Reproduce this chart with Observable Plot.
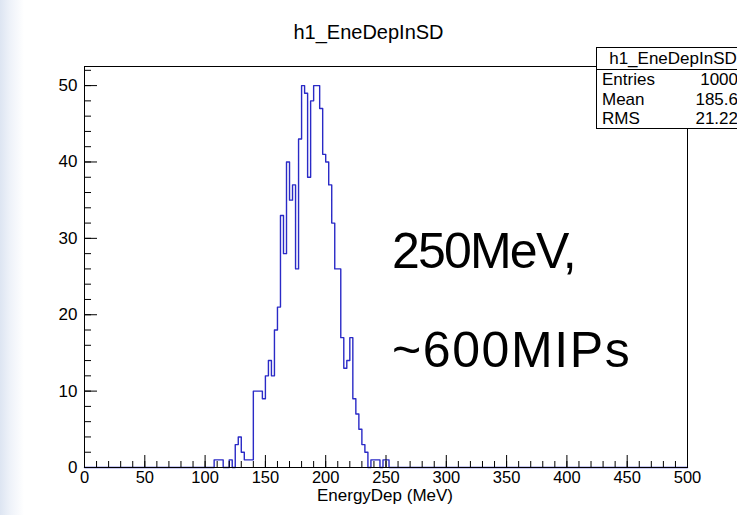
<!DOCTYPE html>
<html>
<head>
<meta charset="utf-8">
<script src="https://cdn.jsdelivr.net/npm/d3@7"></script>
<script src="https://cdn.jsdelivr.net/npm/@observablehq/plot@0.6"></script>
<style>
  html, body { margin: 0; padding: 0; }
  body { width: 737px; height: 515px; overflow: hidden; position: relative;
         background: linear-gradient(90deg, #dde5f2 0px, #eef2f9 10px, #ffffff 24px);
         font-family: "Liberation Sans", Arial, Helvetica, sans-serif; }
  #chart { position: absolute; left: 0; top: 0; }
  .abs { position: absolute; white-space: nowrap; color: #000; }
  #title { left: 0; width: 737px; top: 21px; text-align: center; font-size: 20px; }
  #xlab { left: 385px; transform: translateX(-50%); top: 487px; font-size: 17px; line-height: 17px; }
  #stats { left: 596px; top: 47px; width: 148px; height: 80px; background: #fff;
           border: 1px solid #000; font-size: 17px; }
  #stats .hd { height: 21px; line-height: 21px; text-align: center; border-bottom: 1px solid #000; padding-left: 4px; }
  #stats .row { position: relative; height: 19.5px; line-height: 19.5px; }
  #stats .row .k { position: absolute; left: 5px; }
  #stats .row .v { position: absolute; right: 7px; }
  .big { left: 392px; font-size: 50px; }
</style>
</head>
<body>
<div id="chart"></div>
<div id="title" class="abs"></div>
<div id="xlab" class="abs"></div>
<div id="stats" class="abs"></div>
<div id="ann1" class="abs big" style="top:222px; letter-spacing:-1.8px"></div>
<div id="ann2" class="abs big" style="top:321px; letter-spacing:1.6px"></div>
<script>
// ---- data ----
const histTitle = "h1_EneDepInSD";
const xAxisTitle = "EnergyDep (MeV)";
const binWidth = 2.5;          // MeV (200 bins over 0..500)
const xMin = 0, xMax = 500;
const firstBinLow = 107.5;     // low edge of first listed bin
const counts = [
  1, 1, 1, 0, 0, 1, 0, 3, 4, 2, 1, 1, 1,          // 107.5 .. 137.5
  10, 10, 10, 9, 12, 14, 12, 18,                  // 140 .. 157.5
  21, 33, 28, 40, 35, 37, 26, 43,                 // 160 .. 177.5
  50, 49, 38, 48, 50, 50, 47, 41,                 // 180 .. 197.5
  40, 37, 32, 26, 26, 17, 13, 14,                 // 200 .. 217.5
  17, 9, 7, 5, 3, 2, 0, 1, 1, 1, 0, 1, 1          // 220 .. 250
];
const statsLabels = ["Entries", "Mean", "RMS"];
const statsValues = ["1000", "185.6", "21.22"];
const xMajorTicks = [0, 50, 100, 150, 200, 250, 300, 350, 400, 450, 500];
const xMinorTicks = d3.range(0, 501, 10);
const yMajorTicks = [0, 10, 20, 30, 40, 50];
const yMinorTicks = d3.range(0, 53, 2);
const yMax = 52.5;
const annotations = ["250MeV,", "~600MIPs"];

// ---- build full histogram outline ----
const nBins = Math.round((xMax - xMin) / binWidth);
const startIdx = Math.round((firstBinLow - xMin) / binWidth);
const full = new Array(nBins).fill(0);
counts.forEach((c, i) => { full[startIdx + i] = c; });
const pts = full.map((c, i) => ({x: xMin + i * binWidth, y: c}));
pts.push({x: xMax, y: full[nBins - 1]});

const W = 737, H = 515, mL = 84, mR = 50, mT = 66, mB = 48;
const fw = W - mL - mR, fh = H - mT - mB;

const chart = Plot.plot({
  width: W, height: H,
  marginLeft: mL, marginRight: mR, marginTop: mT, marginBottom: mB,
  x: {domain: [xMin, xMax]},
  y: {domain: [0, yMax]},
  style: {fontFamily: '"Liberation Sans", Arial, sans-serif', fontSize: "17px", background: "transparent", color: "#000"},
  marks: [
    Plot.line(pts, {x: "x", y: "y", curve: "step-after", stroke: "#2a2ac6", strokeWidth: 1.4}),
    Plot.tickX(xMinorTicks, {x: d => d, insetTop: fh - 6, stroke: "#000"}),
    Plot.tickX(xMajorTicks, {x: d => d, insetTop: fh - 12, stroke: "#000"}),
    Plot.tickY(yMinorTicks, {y: d => d, insetRight: fw - 7, stroke: "#000"}),
    Plot.tickY(yMajorTicks, {y: d => d, insetRight: fw - 13, stroke: "#000"}),
    Plot.frame({stroke: "#000"}),
    Plot.axisX({ticks: xMajorTicks, tickSize: 0, tickPadding: 4, label: null, fontSize: 16.5, tickFormat: d => String(d)}),
    Plot.axisY({ticks: yMajorTicks, tickSize: 0, tickPadding: 7, label: null, fontSize: 17, tickFormat: d => String(d)})
  ]
});
document.getElementById("chart").appendChild(chart);

document.getElementById("title").textContent = histTitle;
document.getElementById("xlab").textContent = xAxisTitle;
const st = document.getElementById("stats");
const hd = document.createElement("div"); hd.className = "hd"; hd.textContent = histTitle; st.appendChild(hd);
statsLabels.forEach((k, i) => {
  const r = document.createElement("div"); r.className = "row";
  const a = document.createElement("span"); a.className = "k"; a.textContent = k;
  const b = document.createElement("span"); b.className = "v"; b.textContent = statsValues[i];
  r.appendChild(a); r.appendChild(b); st.appendChild(r);
});
document.getElementById("ann1").textContent = annotations[0];
document.getElementById("ann2").textContent = annotations[1];
</script>
</body>
</html>
